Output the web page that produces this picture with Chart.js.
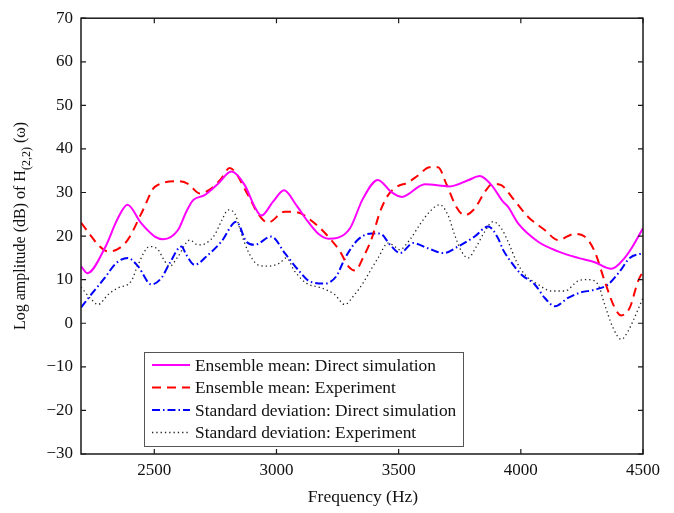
<!DOCTYPE html>
<html>
<head>
<meta charset="utf-8">
<script src="https://cdn.jsdelivr.net/npm/chart.js@4/dist/chart.umd.min.js"></script>
<style>
  html, body { margin: 0; padding: 0; background: #fff; }
  #wrap { width: 674px; height: 513px; }
</style>
</head>
<body>
<div id="wrap"><canvas id="c" width="674" height="513"></canvas></div>
<script>
// Axis ticks
const freqTicks = [2500, 3000, 3500, 4000, 4500];
const dbTicks = [-30, -20, -10, 0, 10, 20, 30, 40, 50, 60, 70];

// Ensemble mean, direct simulation
const meanSimFreq = [2200, 2226, 2297, 2351, 2390, 2447, 2502, 2536, 2597, 2631, 2658, 2706, 2761, 2815, 2870, 2911, 2938, 2986, 3031, 3081, 3129, 3170, 3213, 3250, 3301, 3354, 3415, 3470, 3513, 3607, 3709, 3784, 3832, 3880, 3927, 3948, 3989, 4071, 4152, 4234, 4302, 4370, 4425, 4453, 4500];
const meanSimDb   = [13.1, 11.5, 17.2, 24.1, 27.2, 22.9, 19.9, 19.3, 21.4, 25.6, 28.2, 29.4, 32.0, 34.8, 31.7, 26.7, 24.7, 27.9, 30.5, 27.1, 23.3, 20.6, 19.4, 19.6, 21.8, 28.6, 32.9, 30.1, 29.0, 31.9, 31.4, 32.8, 33.8, 31.7, 27.9, 26.7, 22.9, 18.7, 16.5, 15.0, 14.0, 12.5, 15.0, 17.2, 21.8];

// Ensemble mean, experiment
const meanExpFreq = [2200, 2235, 2270, 2311, 2350, 2392, 2454, 2502, 2597, 2638, 2686, 2733, 2774, 2808, 2884, 2924, 2965, 3034, 3088, 3157, 3218, 3260, 3295, 3322, 3354, 3390, 3424, 3457, 3492, 3538, 3579, 3627, 3661, 3695, 3736, 3770, 3811, 3852, 3886, 3920, 3968, 4030, 4098, 4152, 4220, 4261, 4302, 4343, 4384, 4411, 4446, 4480, 4500];
const meanExpDb   = [23.1, 20.5, 18.0, 16.5, 17.0, 19.2, 26.0, 31.3, 32.6, 32.0, 29.8, 30.9, 33.2, 35.6, 29.4, 25.2, 23.1, 25.6, 25.4, 22.9, 19.5, 16.5, 13.0, 12.1, 15.0, 19.5, 25.6, 29.4, 31.3, 32.3, 33.9, 35.8, 35.8, 32.0, 26.7, 24.8, 26.3, 30.1, 32.0, 31.7, 28.6, 24.4, 21.4, 19.1, 20.5, 19.9, 16.5, 9.7, 3.6, 1.8, 3.6, 9.7, 11.9];

// Standard deviation, direct simulation
const stdSimFreq = [2200, 2242, 2297, 2344, 2392, 2433, 2488, 2529, 2563, 2611, 2631, 2665, 2720, 2774, 2836, 2877, 2911, 2979, 3034, 3088, 3136, 3197, 3245, 3281, 3334, 3390, 3424, 3465, 3506, 3559, 3620, 3682, 3743, 3811, 3866, 3907, 3927, 3948, 4002, 4057, 4098, 4139, 4193, 4241, 4302, 4357, 4405, 4446, 4500];
const stdSimDb   = [3.6, 6.6, 10.4, 13.8, 15.0, 13.1, 8.9, 10.4, 13.8, 17.6, 15.7, 13.4, 15.7, 18.7, 23.3, 18.7, 18.0, 19.9, 16.1, 12.3, 9.6, 9.1, 10.8, 15.0, 19.2, 20.6, 20.6, 18.0, 16.1, 18.4, 17.2, 16.1, 17.6, 19.9, 22.2, 19.5, 16.9, 15.0, 11.2, 8.9, 5.8, 3.9, 5.8, 7.0, 7.7, 8.9, 11.9, 15.0, 16.1];

// Standard deviation, experiment
const stdExpFreq = [2200, 2242, 2270, 2311, 2351, 2406, 2433, 2481, 2515, 2543, 2563, 2597, 2645, 2679, 2713, 2747, 2777, 2802, 2829, 2856, 2884, 2924, 2965, 3013, 3040, 3075, 3122, 3184, 3238, 3279, 3320, 3354, 3375, 3416, 3457, 3484, 3504, 3545, 3586, 3627, 3668, 3702, 3729, 3757, 3784, 3818, 3852, 3886, 3920, 3948, 3982, 4016, 4071, 4125, 4180, 4234, 4275, 4316, 4343, 4377, 4411, 4439, 4459, 4500];
const stdExpDb   = [8.3, 5.5, 4.3, 6.6, 8.1, 9.7, 13.4, 17.6, 16.9, 14.2, 13.1, 15.3, 19.1, 18.0, 18.4, 20.3, 23.7, 26.0, 25.2, 20.6, 16.5, 13.4, 13.1, 13.8, 15.0, 11.9, 9.2, 8.1, 6.6, 4.3, 6.6, 9.2, 11.2, 15.0, 18.4, 17.6, 16.9, 19.1, 22.6, 25.6, 27.2, 24.8, 20.3, 16.5, 15.0, 17.6, 21.0, 23.3, 21.8, 18.7, 14.2, 11.2, 8.9, 7.4, 7.4, 9.7, 10.0, 8.9, 4.3, -1.0, -3.7, -1.8, 0.5, 5.8];

const SERIF = '"Liberation Serif", "Times New Roman", serif';
const pts = (xs, ys) => xs.map((x, i) => ({ x: x, y: ys[i] }));

const datasets = [
  { label: 'Ensemble mean: Direct simulation', data: pts(meanSimFreq, meanSimDb),
    borderColor: '#ff00ff', borderWidth: 2, borderDash: [] },
  { label: 'Ensemble mean: Experiment', data: pts(meanExpFreq, meanExpDb),
    borderColor: '#ff0000', borderWidth: 2, borderDash: [9, 6] },
  { label: 'Standard deviation: Direct simulation', data: pts(stdSimFreq, stdSimDb),
    borderColor: '#0000ff', borderWidth: 2, borderDash: [8, 3, 1.5, 3] },
  { label: 'Standard deviation: Experiment', data: pts(stdExpFreq, stdExpDb),
    borderColor: '#222222', borderWidth: 1.3, borderDash: [1.3, 3] }
].map(d => Object.assign(d, {
  pointRadius: 0, fill: false, cubicInterpolationMode: 'monotone', borderCapStyle: 'butt'
}));

// Box around the plot with inward tick marks on all four sides
const boxPlugin = {
  id: 'box',
  afterDatasetsDraw(chart) {
    const { ctx, chartArea: a, scales } = chart;
    const tl = 5;
    ctx.save();
    ctx.strokeStyle = '#1a1a1a';
    ctx.lineWidth = 1.5;
    ctx.strokeRect(a.left, a.top, a.right - a.left, a.bottom - a.top);
    ctx.lineWidth = 1.2;
    ctx.beginPath();
    freqTicks.forEach(v => {
      const x = scales.x.getPixelForValue(v);
      ctx.moveTo(x, a.bottom); ctx.lineTo(x, a.bottom - tl);
      ctx.moveTo(x, a.top); ctx.lineTo(x, a.top + tl);
    });
    dbTicks.forEach(v => {
      const y = scales.y.getPixelForValue(v);
      ctx.moveTo(a.left, y); ctx.lineTo(a.left + tl, y);
      ctx.moveTo(a.right, y); ctx.lineTo(a.right - tl, y);
    });
    ctx.stroke();
    ctx.restore();
  }
};

// Axis titles (the y title carries a subscript) and the boxed legend
const annotatePlugin = {
  id: 'annotate',
  afterDraw(chart) {
    const { ctx, chartArea: a } = chart;
    ctx.save();
    ctx.fillStyle = '#111';

    // x title
    ctx.font = '17.5px ' + SERIF;
    ctx.textAlign = 'center';
    ctx.textBaseline = 'middle';
    ctx.fillText('Frequency (Hz)', (a.left + a.right) / 2 + 1, 497);

    // y title, rotated
    const main = 'Log amplitude (dB) of H', sub = '(2,2)', tail = ' (\u03c9)';
    ctx.textAlign = 'left';
    ctx.textBaseline = 'alphabetic';
    ctx.font = '16px ' + SERIF;
    const w1 = ctx.measureText(main).width, w3 = ctx.measureText(tail).width;
    ctx.font = '12px ' + SERIF;
    const w2 = ctx.measureText(sub).width;
    const total = w1 + w2 + w3;
    const cy = 226;
    ctx.translate(25, cy + total / 2);
    ctx.rotate(-Math.PI / 2);
    ctx.font = '16px ' + SERIF;
    ctx.fillText(main, 0, 0);
    ctx.font = '12px ' + SERIF;
    ctx.fillText(sub, w1, 5);
    ctx.font = '16px ' + SERIF;
    ctx.fillText(tail, w1 + w2, 0);
    ctx.restore();

    // legend
    ctx.save();
    const bx = 144, by = 352, bw = 319, bh = 94;
    ctx.fillStyle = '#fff';
    ctx.fillRect(bx, by, bw, bh);
    ctx.strokeStyle = '#555';
    ctx.lineWidth = 1;
    ctx.strokeRect(bx + 0.5, by + 0.5, bw, bh);
    ctx.font = '17.4px ' + SERIF;
    ctx.textAlign = 'left';
    ctx.textBaseline = 'middle';
    chart.data.datasets.forEach((ds, i) => {
      const y = 365 + i * 22.5;
      ctx.strokeStyle = ds.borderColor;
      ctx.lineWidth = ds.borderWidth;
      ctx.setLineDash(ds.borderDash);
      ctx.beginPath();
      ctx.moveTo(152, y); ctx.lineTo(190, y);
      ctx.stroke();
      ctx.setLineDash([]);
      ctx.fillStyle = '#111';
      ctx.fillText(ds.label, 195, y + 1);
    });
    ctx.restore();
  }
};

new Chart(document.getElementById('c'), {
  type: 'line',
  data: { datasets: datasets },
  options: {
    responsive: false,
    animation: false,
    devicePixelRatio: 1,
    layout: { padding: { left: 0, right: 31, top: 15, bottom: 0 } },
    plugins: { legend: { display: false }, tooltip: { enabled: false } },
    scales: {
      x: {
        type: 'linear', min: 2200, max: 4500,
        afterBuildTicks: s => { s.ticks = freqTicks.map(v => ({ value: v })); },
        afterFit: s => { s.height = 59; },
        grid: { display: false, drawTicks: false },
        border: { display: false },
        ticks: { padding: 6, color: '#111', font: { family: SERIF, size: 17 },
          callback: v => String(v) }
      },
      y: {
        type: 'linear', min: -30, max: 70,
        afterBuildTicks: s => { s.ticks = dbTicks.map(v => ({ value: v })); },
        afterFit: s => { s.width = 81; },
        grid: { display: false, drawTicks: false },
        border: { display: false },
        ticks: { padding: 8, color: '#111', font: { family: SERIF, size: 17 },
          callback: v => String(v).replace('-', '\u2212') }
      }
    }
  },
  plugins: [boxPlugin, annotatePlugin]
});
</script>
</body>
</html>
